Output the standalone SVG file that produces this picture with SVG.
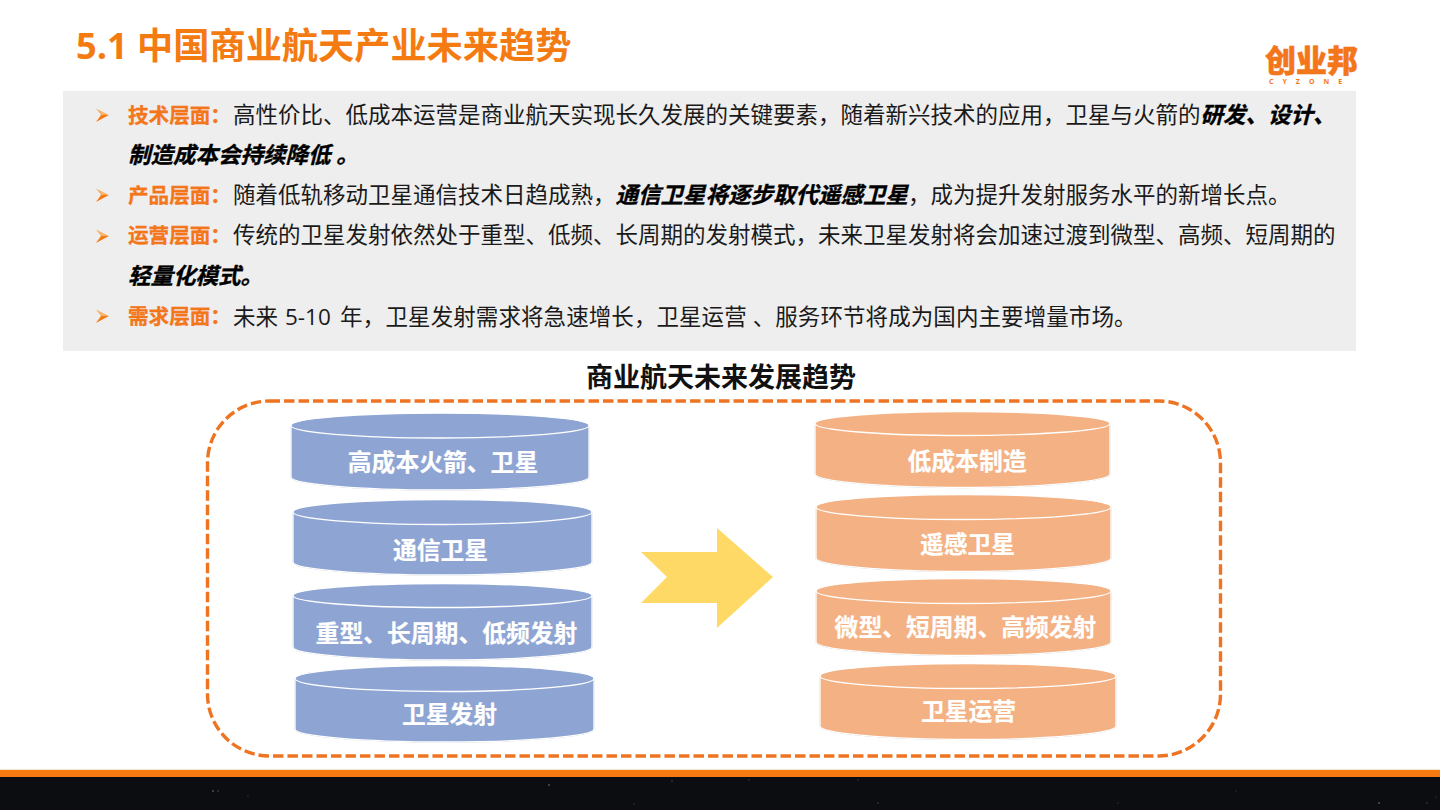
<svg xmlns="http://www.w3.org/2000/svg" width="1440" height="810" viewBox="0 0 1440 810">
<style>
text{font-family:"Open Sans","Noto Sans CJK SC",sans-serif}
.body{font-size:22.5px;fill:#1a1a1a}
.lead{font-size:20.6px;font-weight:700;fill:#F4761B;stroke:#F4761B;stroke-width:.3}
.em{font-weight:700;font-style:italic;fill:#000;stroke:#000;stroke-width:.35}
.cap{font-size:23.8px;font-weight:700;fill:#fff;text-anchor:middle;stroke:#fff;stroke-width:.2}
.blue .side,.blue .top{fill:#8EA5D4}
.org .side,.org .top{fill:#F4B183}
.side,.top{stroke:#fff;stroke-width:1.3}
.side{filter:url(#rim)}
</style>
<defs>
<filter id="rim" x="-2%" y="-5%" width="104%" height="110%"><feDropShadow dx="0" dy="0" stdDeviation=".55" flood-color="#8f9bb0" flood-opacity=".75"/></filter>
<g id="bul"><path d="M0 0L13 6.500L5 6.500Z" fill="#F9B26B"/><path d="M13 6.500L0 13.500L5 6.500Z" fill="#F47B12"/></g>
</defs>
<rect width="1440" height="810" fill="#fff"/>
<text id="title" x="76" y="59" font-size="36.2" font-weight="700" fill="#F47B12">5.1 中国商业航天产业未来趋势</text>
<g id="logo">
<text x="1265" y="72" font-size="31" font-weight="900" fill="#F4761B" stroke="#F4761B" stroke-width=".5">创业邦</text>
<text x="1269" y="84" font-size="7" font-weight="700" fill="#F4761B" letter-spacing="9">CYZONE</text>
</g>
<rect id="panel" x="63" y="91" width="1293" height="260" fill="#EEEEEE"/>
<g id="bullets">
<use href="#bul" x="96" y="108.500"/>
<use href="#bul" x="96" y="188.500"/>
<use href="#bul" x="96" y="229.500"/>
<use href="#bul" x="96" y="309.500"/>
</g>
<g id="body" class="body">
<text x="128" y="122.500"><tspan class="lead">技术层面：</tspan></text>
<text x="233" y="123">高性价比、低成本运营是商业航天实现长久发展的关键要素，随着新兴技术的应用，卫星与火箭的<tspan class="em">研发、设计、</tspan></text>
<text x="128" y="163"><tspan class="em">制造成本会持续降低 。</tspan></text>
<text x="128" y="202.500"><tspan class="lead">产品层面：</tspan></text>
<text x="233" y="203">随着低轨移动卫星通信技术日趋成熟，<tspan class="em">通信卫星将逐步取代遥感卫星</tspan>，成为提升发射服务水平的新增长点。</text>
<text x="128" y="242.500"><tspan class="lead">运营层面：</tspan></text>
<text x="233" y="243">传统的卫星发射依然处于重型、低频、长周期的发射模式，未来卫星发射将会加速过渡到微型、高频、短周期的</text>
<text x="128" y="284"><tspan class="em">轻量化模式。</tspan></text>
<text x="128" y="323.500"><tspan class="lead">需求层面：</tspan></text>
<text x="233" y="324.500">未来 <tspan x="285">5-10</tspan> <tspan x="340">年，</tspan></text>
<text x="385.500" y="324.500" letter-spacing=".08">卫星发射需求将急速增长，卫星运营 、服务环节将成为国内主要增量市场。</text>
</g>
<text id="heading" x="721" y="386.500" font-size="27" font-weight="700" fill="#111" text-anchor="middle">商业航天未来发展趋势</text>
<rect id="frame" x="207.500" y="401" width="1013" height="355" rx="62" ry="62" fill="none" stroke="#EE7422" stroke-width="3.400" stroke-dasharray="10.500 4"/>
<g id="connectors">
<polygon id="arrow" points="641,552 717,552 717,528 773,577 717,628 717,603 641,603 667,577" fill="#FFD966"/>
</g>
<g id="n1" class="blue"><path class="side" d="M291 426V477C291 484 358 490 440 490S589 484 589 477V426Z"/><ellipse class="top" cx="440" cy="425.500" rx="149" ry="12.500"/><text class="cap" x="443" y="471">高成本火箭、卫星</text></g>
<g id="n2" class="blue"><path class="side" d="M293 512.500V562C293 569 360 575 442.500 575S592 569 592 562V512.500Z"/><ellipse class="top" cx="442.500" cy="512" rx="149.500" ry="12.500"/><text class="cap" x="440.500" y="559">通信卫星</text></g>
<g id="n3" class="blue"><path class="side" d="M293 596V647C293 654 360 660 442.500 660S592 654 592 647V596Z"/><ellipse class="top" cx="442.500" cy="595.500" rx="149.500" ry="12"/><text class="cap" x="446.500" y="642">重型、长周期、低频发射</text></g>
<g id="n4" class="blue"><path class="side" d="M295 679V729C295 736 362 742 444.500 742S594 736 594 729V679Z"/><ellipse class="top" cx="444.500" cy="678.500" rx="149.500" ry="13"/><text class="cap" x="449.500" y="723">卫星发射</text></g>
<g id="n5" class="org"><path class="side" d="M815 424V474C815 481 881 487.500 962.500 487.500S1110 481 1110 474V424Z"/><ellipse class="top" cx="962.500" cy="423.500" rx="147.500" ry="12"/><text class="cap" x="967" y="470">低成本制造</text></g>
<g id="n6" class="org"><path class="side" d="M816 507.500V558C816 565 882 571.500 963.500 571.500S1111 565 1111 558V507.500Z"/><ellipse class="top" cx="963.500" cy="507" rx="147.500" ry="12.500"/><text class="cap" x="967.500" y="553">遥感卫星</text></g>
<g id="n7" class="org"><path class="side" d="M816 591.500V642C816 649 882 655.500 963.500 655.500S1111 649 1111 642V591.500Z"/><ellipse class="top" cx="963.500" cy="591" rx="147.500" ry="12.500"/><text class="cap" x="965.500" y="636">微型、短周期、高频发射</text></g>
<g id="n8" class="org"><path class="side" d="M820 676.500V726C820 733 886 739.500 968 739.500S1116 733 1116 726V676.500Z"/><ellipse class="top" cx="968" cy="676" rx="148" ry="12.500"/><text class="cap" x="968.500" y="720">卫星运营</text></g>
<rect id="fringe" y="769" width="1440" height="1" fill="#FBE6CF"/>
<rect id="band" y="770" width="1440" height="7" fill="#F67A12"/>
<rect id="night" y="777" width="1440" height="33" fill="#0C0D11"/>
<g id="stars" fill="#4c4f55"><circle cx="213" cy="791" r="1"/><circle cx="218" cy="791" r=".8"/><circle cx="248" cy="796" r=".6"/><circle cx="549" cy="785" r="1"/><circle cx="634" cy="804" r=".6"/><circle cx="672" cy="781" r=".7"/><circle cx="749" cy="780" r=".7"/><circle cx="858" cy="780" r=".7"/><circle cx="878" cy="803" r=".7"/><circle cx="1118" cy="803" r=".6"/><circle cx="1236" cy="791" r=".5"/><circle cx="1379" cy="803" r="1.100"/><circle cx="1427" cy="803" r=".7"/><circle cx="1436" cy="797" r=".6"/></g>
</svg>
